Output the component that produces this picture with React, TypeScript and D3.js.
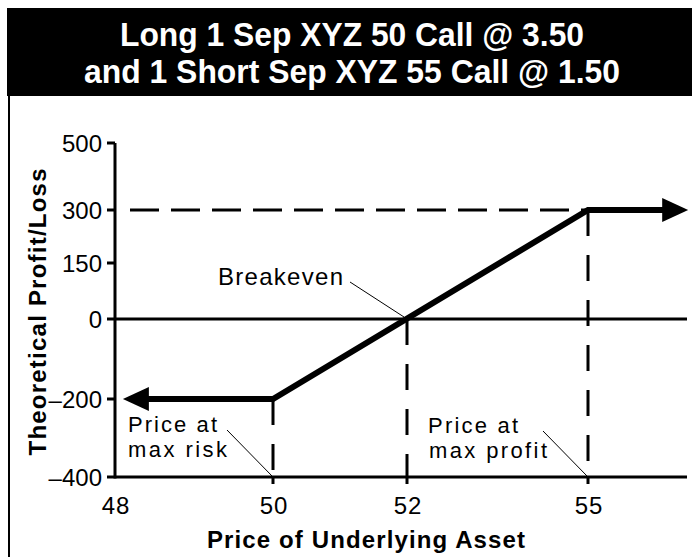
import React from "react";
import * as d3 from "d3";

const titleLines = ["Long 1 Sep XYZ 50 Call @ 3.50", "and 1 Short Sep XYZ 55 Call @ 1.50"];
const xTicks = [48, 50, 52, 55];
const yTicks = [-400, -200, 0, 150, 300, 500];
const payoffPrice = [48.1, 50, 55, 56.68];
const payoffPL = [-200, -200, 300, 300];
const maxRiskPrice = 50;
const maxRiskPL = -200;
const breakevenPrice = 52;
const maxProfitPrice = 55;
const maxProfitPL = 300;
const xAxisTitle = "Price of Underlying Asset";
const yAxisTitle = "Theoretical Profit/Loss";

const W = 692;
const H = 557;

export default function App() {
  // schematic (non-uniform) axes as in the reference
  const x = d3.scaleLinear().domain([48, 50, 52, 55, 56.66]).range([115, 273, 407, 588, 687]);
  const y = d3.scaleLinear().domain(yTicks).range([477, 399, 319, 263, 210, 143]);
  const x0 = x(48);
  const xEnd = x(56.66);
  const yBottom = y(-400);
  const yTop = y(500);

  const pts: [number, number][] = payoffPrice.map((p, i) => [x(p), y(payoffPL[i])]);
  const ah = 26; // arrow length
  const aw = 12; // arrow half width
  const linePts: [number, number][] = pts.map((p) => [p[0], p[1]]);
  linePts[0] = [pts[0][0] + ah - 2, pts[0][1]];
  linePts[linePts.length - 1] = [pts[pts.length - 1][0] - ah + 2, pts[pts.length - 1][1]];
  const line = d3.line();
  const lp = pts[0];
  const rp = pts[pts.length - 1];

  const fontFamily = "'Liberation Sans', Arial, Helvetica, sans-serif";
  const vDash = "26 19";

  return (
    <svg width={W} height={H} style={{ position: "absolute", left: 0, top: 0, background: "#fff" }} fontFamily={fontFamily}>
      <rect x={0} y={0} width={W} height={H} fill="#fff" />
      {/* header */}
      <rect x={7} y={8} width={W - 7} height={88} fill="#000" />
      <text x={352} y={46} fill="#fff" fontSize={33} fontWeight="bold" textAnchor="middle" textLength={464} lengthAdjust="spacingAndGlyphs">
        {titleLines[0]}
      </text>
      <text x={352} y={83} fill="#fff" fontSize={33} fontWeight="bold" textAnchor="middle" textLength={536} lengthAdjust="spacingAndGlyphs">
        {titleLines[1]}
      </text>
      {/* left border */}
      <line x1={9} y1={95} x2={9} y2={H} stroke="#000" strokeWidth={2} />

      {/* reference dashed lines */}
      <line x1={x0 + 15} y1={y(maxProfitPL)} x2={x(maxProfitPrice)} y2={y(maxProfitPL)} stroke="#000" strokeWidth={3} strokeDasharray="29 12" />
      <line x1={x(maxRiskPrice)} y1={y(maxRiskPL)} x2={x(maxRiskPrice)} y2={yBottom} stroke="#000" strokeWidth={3} strokeDasharray={vDash} />
      <line x1={x(breakevenPrice)} y1={y(0)} x2={x(breakevenPrice)} y2={yBottom} stroke="#000" strokeWidth={3} strokeDasharray={vDash} />
      <line x1={x(maxProfitPrice)} y1={y(maxProfitPL)} x2={x(maxProfitPrice)} y2={yBottom} stroke="#000" strokeWidth={3} strokeDasharray={vDash} />

      {/* axes */}
      <line x1={x0} y1={yTop} x2={x0} y2={yBottom + 1.5} stroke="#000" strokeWidth={3} />
      <line x1={x0} y1={yBottom} x2={xEnd} y2={yBottom} stroke="#000" strokeWidth={3} />
      <line x1={x0} y1={y(0)} x2={xEnd} y2={y(0)} stroke="#000" strokeWidth={3} />
      {yTicks.map((t) => (
        <g key={"yt" + t}>
          <line x1={x0 - 8} y1={y(t)} x2={x0} y2={y(t)} stroke="#000" strokeWidth={3} />
          <text x={102} y={y(t) + 8.5} fontSize={24} textAnchor="end">
            {t < 0 ? "\u2013" + Math.abs(t) : String(t)}
          </text>
        </g>
      ))}
      {xTicks.map((t) => (
        <g key={"xt" + t}>
          {t !== 48 && <line x1={x(t)} y1={yBottom} x2={x(t)} y2={yBottom + 7} stroke="#000" strokeWidth={3} />}
          <text x={x(t) + 1} y={514} fontSize={24} textAnchor="middle" letterSpacing={1}>
            {String(t)}
          </text>
        </g>
      ))}

      {/* payoff line */}
      <path d={line(linePts) || ""} fill="none" stroke="#000" strokeWidth={6} strokeLinejoin="miter" />
      <polygon points={`${lp[0]},${lp[1]} ${lp[0] + ah},${lp[1] - aw} ${lp[0] + ah},${lp[1] + aw}`} fill="#000" />
      <polygon points={`${rp[0]},${rp[1]} ${rp[0] - ah},${rp[1] - aw} ${rp[0] - ah},${rp[1] + aw}`} fill="#000" />

      {/* annotations */}
      <text x={218} y={285} fontSize={24} textLength={125} lengthAdjust="spacing">Breakeven</text>
      <line x1={350} y1={282} x2={x(breakevenPrice) - 3} y2={y(0) - 2} stroke="#000" strokeWidth={1} />

      <text x={128} y={432} fontSize={22} textLength={89} lengthAdjust="spacing">Price at</text>
      <text x={128} y={457} fontSize={22} textLength={99} lengthAdjust="spacing">max risk</text>
      <line x1={227} y1={430} x2={x(maxRiskPrice) - 1} y2={yBottom - 1} stroke="#000" strokeWidth={1} />

      <text x={428} y={433} fontSize={22} textLength={90} lengthAdjust="spacing">Price at</text>
      <text x={429} y={458} fontSize={22} textLength={118} lengthAdjust="spacing">max profit</text>
      <line x1={543} y1={431} x2={x(maxProfitPrice) - 1} y2={yBottom - 1} stroke="#000" strokeWidth={1} />

      {/* axis titles */}
      <text x={366} y={548} fontSize={24} fontWeight="bold" textAnchor="middle" textLength={318} lengthAdjust="spacing">
        {xAxisTitle}
      </text>
      <text transform={`translate(46,312) rotate(-90)`} fontSize={24} fontWeight="bold" textAnchor="middle" textLength={287} lengthAdjust="spacing">
        {yAxisTitle}
      </text>
    </svg>
  );
}
